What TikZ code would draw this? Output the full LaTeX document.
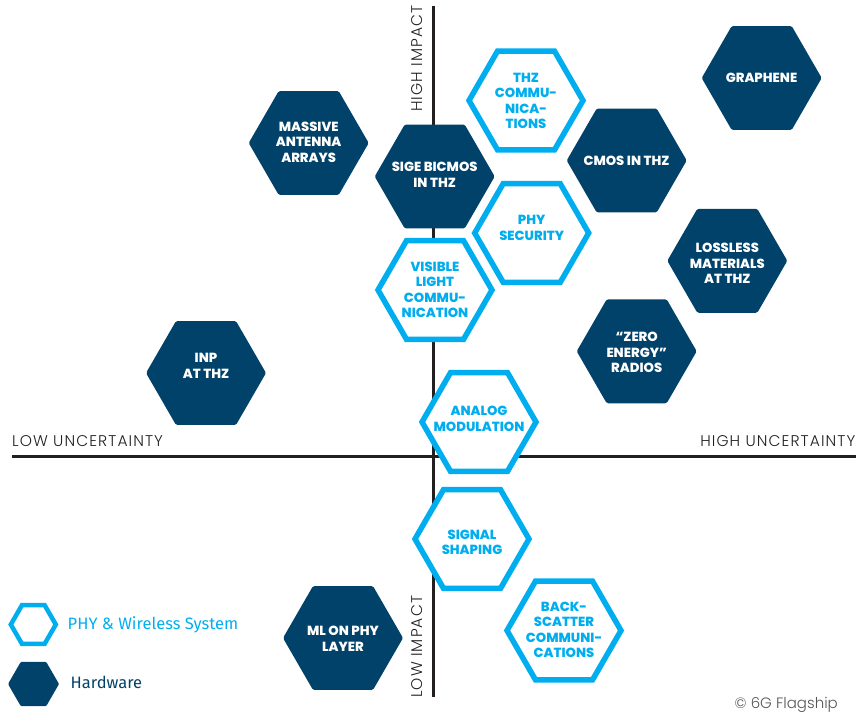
\documentclass[tikz,border=0pt]{standalone}
\usepackage{fontspec}
\usetikzlibrary{shapes.geometric}
\newfontfamily\hexfont{Poppins ExtraBold}
\newfontfamily\lightfont{Poppins Light}[LetterSpace=7]
\newfontfamily\copyfont{Poppins Light}
\newfontfamily\legfont{Fira Sans}
\definecolor{hwblue}{HTML}{01426A}
\definecolor{phycyan}{HTML}{00AEEF}
\definecolor{axisdark}{HTML}{231F20}
\definecolor{copygray}{HTML}{555555}
\tikzset{
  hexd/.style={regular polygon, regular polygon sides=6, minimum size=120pt, inner sep=0pt, outer sep=0pt, fill=hwblue, rounded corners=1.5pt},
  hexc/.style={regular polygon, regular polygon sides=6, minimum size=114pt, inner sep=0pt, outer sep=0pt, fill=white, draw=phycyan, line width=5.5pt},
  hexlbl/.style={font=\hexfont\fontsize{13.2}{15.5}\selectfont, align=center, inner sep=0pt},
  hwlbl/.style={hexlbl, text=white},
  phylbl/.style={hexlbl, text=phycyan},
  axislbl/.style={font=\lightfont\fontsize{15.5}{18}\selectfont, text=axisdark, inner sep=0pt},
  axisline/.style={draw=axisdark, line width=3pt},
}
\begin{document}
\begin{tikzpicture}[x=1pt, y=-1pt]
\useasboundingbox (0,0) rectangle (859,713);
% axes
\coordinate (vtop) at (433.5,6);
\coordinate (vbot) at (433.5,697);
\coordinate (hl) at (12,456.7);
\coordinate (hr) at (856,456.7);
\draw[axisline] (vtop) -- (vbot);
\draw[axisline] (hl) -- (hr);
% axis labels
\node[axislbl, rotate=90, anchor=base west] (highimpact) at (422.7,112) {HIGH IMPACT};
\node[axislbl, rotate=90, anchor=base west] (lowimpact) at (422.7,698) {LOW IMPACT};
\node[axislbl, anchor=base west] (lowunc) at (12,446.5) {LOW UNCERTAINTY};
\node[axislbl, anchor=base east] (highunc) at (855.5,446.5) {HIGH UNCERTAINTY};
% hardware hexagons
\node[hexd] (graphene) at (761.7,78) {};
\node[hwlbl] (grapheneT) at (761.5,78) {GRAPHENE};
\node[hexd] (massive) at (308.7,143) {};
\node[hwlbl] (massiveT) at (308.7,142) {MASSIVE\\ANTENNA\\ARRAYS};
\node[hexd] (sige) at (434.7,176.5) {};
\node[hwlbl] (sigeT) at (434.7,174.7) {SIGE BICMOS\\IN THZ};
\node[hexd] (cmos) at (626.7,160.5) {};
\node[hwlbl] (cmosT) at (626.5,160.7) {CMOS IN THZ};
\node[hexd] (lossless) at (727.3,260.8) {};
\node[hwlbl] (losslessT) at (727.3,263.3) {LOSSLESS\\MATERIALS\\AT THZ};
\node[hexd] (zero) at (636.7,351.3) {};
\node[hwlbl] (zeroT) at (636.7,352.7) {“ZERO\\ENERGY”\\RADIOS};
\node[hexd] (inp) at (206,373) {};
\node[hwlbl] (inpT) at (206,366) {INP\\AT THZ};
\node[hexd] (mlphy) at (343,638) {};
\node[hwlbl] (mlphyT) at (343,639) {ML ON PHY\\LAYER};
% PHY hexagons
\node[hexc] (thz) at (526,100.5) {};
\node[phylbl] (thzT) at (526,101) {THZ\\COMMU-\\NICA-\\TIONS};
\node[hexc] (physec) at (531.7,233) {};
\node[phylbl] (physecT) at (531.7,228) {PHY\\SECURITY};
\node[hexc] (vlc) at (435,290) {};
\node[phylbl] (vlcT) at (435,290) {VISIBLE\\LIGHT\\COMMU-\\NICATION};
\node[hexc] (analog) at (479,422) {};
\node[phylbl] (analogT) at (479,418.7) {ANALOG\\MODULATION};
\node[hexc] (signal) at (472,539) {};
\node[phylbl] (signalT) at (472,542.5) {SIGNAL\\SHAPING};
\node[hexc] (back) at (564,630.5) {};
\node[phylbl] (backT) at (564,630) {BACK-\\SCATTER\\COMMUNI-\\CATIONS};
% legend
\node[regular polygon, regular polygon sides=6, minimum size=45pt, inner sep=0pt, fill=white, draw=phycyan, line width=4.5pt] (legphy) at (33.3,624.5) {};
\node[font=\legfont\fontsize{16.5}{19}\selectfont, text=phycyan, anchor=base west, inner sep=0pt] (legphyT) at (67.5,629.5) {PHY \& Wireless System};
\node[regular polygon, regular polygon sides=6, minimum size=51pt, inner sep=0pt, fill=hwblue, rounded corners=1pt] (leghw) at (33.5,684) {};
\node[font=\legfont\fontsize{16.5}{19}\selectfont, text=hwblue, anchor=base west, inner sep=0pt] (leghwT) at (70.5,688.5) {Hardware};
% copyright
\node[font=\copyfont\fontsize{15}{18}\selectfont, text=copygray, anchor=base east, inner sep=0pt] (copy) at (838,708) {© 6G Flagship};
\end{tikzpicture}
\end{document}
